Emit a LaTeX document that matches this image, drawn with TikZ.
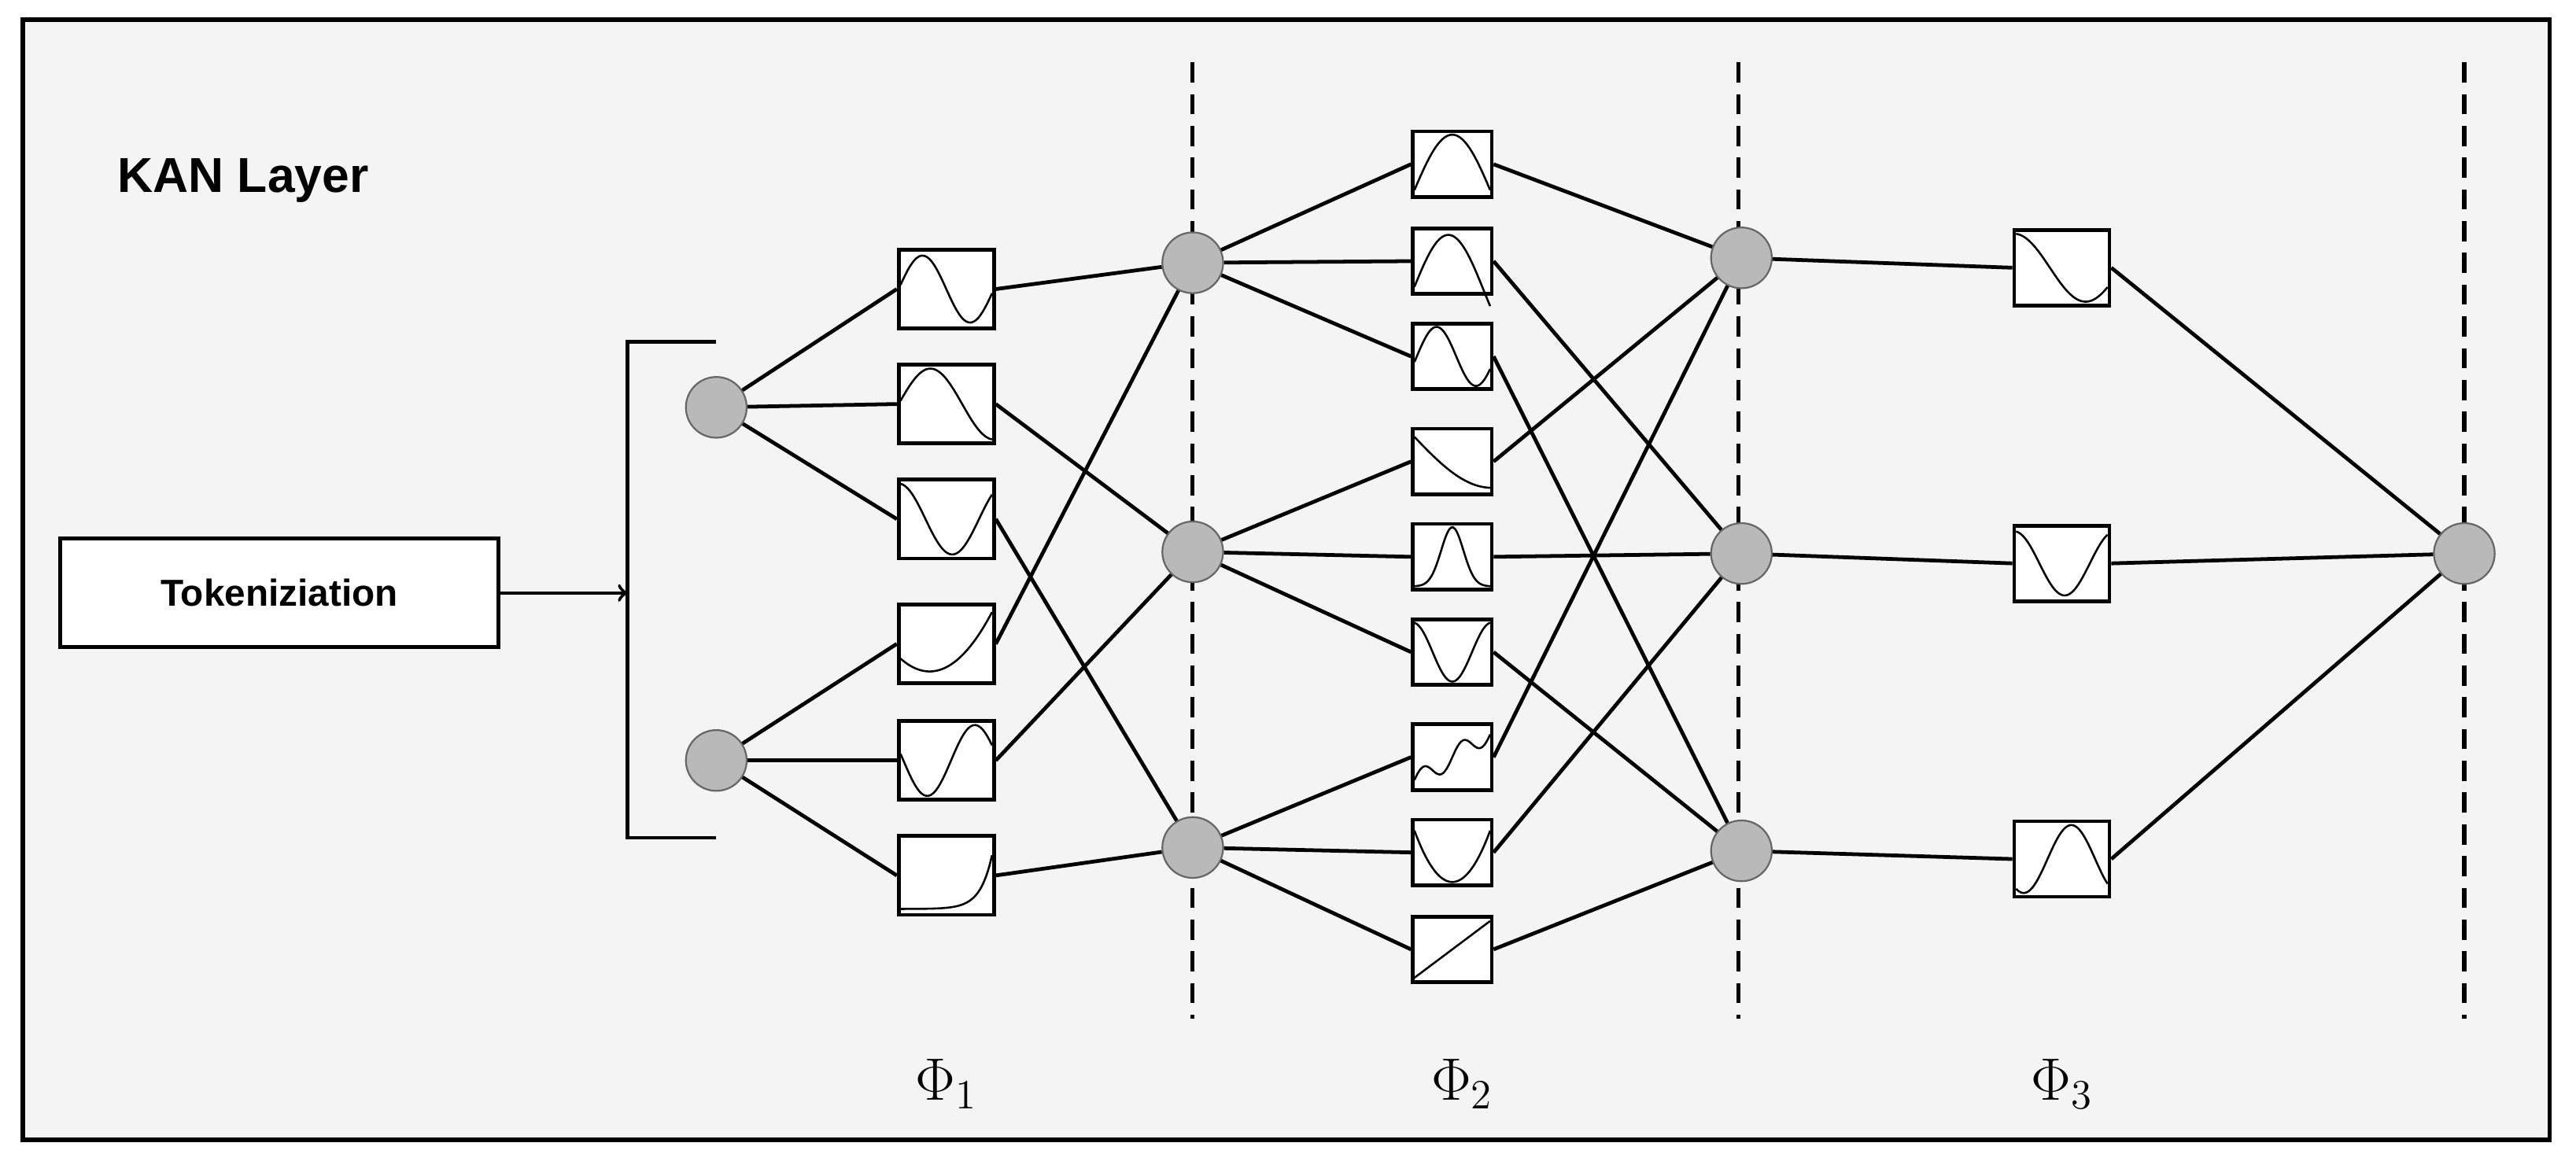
\documentclass[tikz,border=0pt]{standalone}
\usepackage{fontspec}
\setsansfont{Liberation Sans}
\begin{document}
\begin{tikzpicture}[x=0.02cm,y=-0.02cm,line width=1.3pt,
  neu/.style={circle,fill=gray!55,draw=gray!80!black,line width=0.6pt,minimum size=0.74cm,inner sep=0pt},
  ba/.style={draw,fill=white,minimum width=1.16cm,minimum height=0.96cm,inner sep=0pt},
  bb/.style={draw,fill=white,minimum width=0.96cm,minimum height=0.8cm,inner sep=0pt},
  bc/.style={draw,fill=white,minimum width=1.16cm,minimum height=0.92cm,inner sep=0pt},
  dl/.style={dashed,line width=1.4pt,dash pattern=on 7pt off 4pt},
  cv/.style={line width=0.7pt}]
\useasboundingbox (0,0) rectangle (1568,709);
\draw[fill=gray!9,line width=1.5pt] (14,12) rectangle (1552,694);
\node[font=\sffamily\bfseries\fontsize{17}{20}\selectfont] at (148,110) {KAN Layer};
\node[draw,fill=white,minimum width=5.34cm,minimum height=1.32cm,font=\sffamily\bfseries\fontsize{13}{16}\selectfont] (tok) at (170,361) {Tokeniziation};
\coordinate (br) at (382,361);
\draw (436,208) -- (382,208) -- (382,510) -- (436,510);
\draw[->,line width=1.2pt] (tok.east) -- (br);
% dashed
\draw[dl] (726,38) -- (726,620);
\draw[dl] (1058,38) -- (1058,620);
\draw[dl] (1500,38) -- (1500,620);
% nodes
\node[neu] (i1) at (436,248) {};
\node[neu] (i2) at (436,463) {};
\node[neu] (a1) at (726,160) {};
\node[neu] (a2) at (726,336) {};
\node[neu] (a3) at (726,516) {};
\node[neu] (c1) at (1060,157) {};
\node[neu] (c2) at (1060,337) {};
\node[neu] (c3) at (1060,518) {};
\node[neu] (o) at (1500,337) {};
% boxes
\foreach \n/\y in {1/176,2/246,3/316,4/392,5/463,6/533} \node[ba] (p\n) at (576,\y) {};
\foreach \n/\y in {1/100,2/159,3/217,4/281,5/339,6/397,7/461,8/519,9/578} \node[bb] (q\n) at (884,\y) {};
\foreach \n/\y in {1/163,2/343,3/523} \node[bc] (r\n) at (1255,\y) {};
% edges
\foreach \n in {1,2,3} \draw (i1) -- (p\n.west);
\foreach \n in {4,5,6} \draw (i2) -- (p\n.west);
\draw (p1.east)--(a1); \draw (p2.east)--(a2); \draw (p3.east)--(a3);
\draw (p4.east)--(a1); \draw (p5.east)--(a2); \draw (p6.east)--(a3);
\foreach \n in {1,2,3} \draw (a1) -- (q\n.west);
\foreach \n in {4,5,6} \draw (a2) -- (q\n.west);
\foreach \n in {7,8,9} \draw (a3) -- (q\n.west);
\foreach \n in {1,4,7} \draw (q\n.east) -- (c1);
\foreach \n in {2,5,8} \draw (q\n.east) -- (c2);
\foreach \n in {3,6,9} \draw (q\n.east) -- (c3);
\draw (c1)--(r1.west); \draw (c2)--(r2.west); \draw (c3)--(r3.west);
\foreach \n in {1,2,3} \draw (r\n.east) -- (o);
% curves
\newcommand\kcurve[4]{\begin{scope}[shift={(#1.center)}]\draw[cv] plot[domain=-0.96:0.96,samples=40,smooth] ({\x*#2},{-(#4)*#3});\end{scope}}
\kcurve{p1}{29}{24}{-0.85*sin(180*\x)}
\kcurve{p2}{29}{24}{0.9*sin(135*(\x+1))}
\kcurve{p3}{29}{24}{0.9*cos(160*(\x+1))}
\kcurve{p4}{29}{24}{-0.7+1.6*((\x+0.35)/1.35)*((\x+0.35)/1.35)}
\kcurve{p5}{29}{24}{-0.9*cos(180*(\x+0.4))}
\kcurve{p6}{29}{24}{-0.85+1.6*exp(4*(\x-1))}
\kcurve{q1}{24}{20}{-0.9+1.8*sin(90*(\x+1))}
\kcurve{q2}{24}{20}{-0.9+1.7*sin(100*(\x+1))}
\kcurve{q3}{24}{20}{0.9*cos(180*(\x+0.4))}
\kcurve{q4}{24}{20}{0.8-1.6*sin(45*(\x+1))}
\kcurve{q5}{24}{20}{-0.9+1.8*exp(-(\x/0.4)*(\x/0.4))}
\kcurve{q6}{24}{20}{0.9*cos(180*(\x+1))}
\kcurve{q7}{24}{20}{-0.8+0.8*(\x+1)+0.3*sin(360*\x)}
\kcurve{q8}{24}{20}{-0.9+1.7*\x*\x}
\kcurve{q9}{24}{20}{0.9*\x}
\kcurve{r1}{29}{23}{0.9*cos(120*(\x+1))}
\kcurve{r2}{29}{23}{0.85*cos(170*(\x+1))}
\kcurve{r3}{29}{23}{-0.9*cos(180*(\x+0.8))}
% labels
\node[font=\fontsize{22}{26}\selectfont] at (576,660) {$\Phi_1$};
\node[font=\fontsize{22}{26}\selectfont] at (890,660) {$\Phi_2$};
\node[font=\fontsize{22}{26}\selectfont] at (1255,660) {$\Phi_3$};
\end{tikzpicture}
\end{document}
